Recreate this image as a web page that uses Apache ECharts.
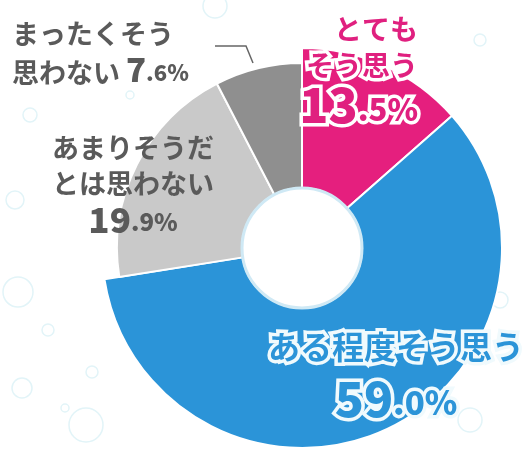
<!DOCTYPE html>
<html>
<head>
<meta charset="utf-8">
<script src="https://cdn.jsdelivr.net/npm/echarts@6/dist/echarts.min.js"></script>
<style>
html,body{margin:0;padding:0;background:#fff}
#chart{width:529px;height:450px}
</style>
</head>
<body>
<div id="chart"></div>
<script>
// 回答項目（12時の位置から時計回り）
var names = ['とても\nそう思う', 'ある程度そう思う', 'あまりそうだ\nとは思わない', 'まったくそう\n思わない'];
var values = [13.5, 59.0, 19.9, 7.6];

var colors = ['#e51f7e', '#2b94d8', '#c9c9c9', '#8f8f8f'];
// ピンクと青は外側に大きく、グレーは小さめ
var outerBig = [true, true, false, false];

var jp = '"Noto Sans CJK JP", sans-serif';

// ラベルの位置
var labelPos = [
	{x: 418, y: 7, align: 'right', verticalAlign: 'top'},
	{x: 396, y: 323, align: 'center', verticalAlign: 'top'},
	{x: 133, y: 125, align: 'center', verticalAlign: 'top'},
	{x: 12, y: 8, align: 'left', verticalAlign: 'top'}
];

// 文字の大きさ [fontSize, lineHeight, 下の余白, 左の余白]
var fontA = [[28, 36], [32, 40], [27, 36], [27, 39]];
var fontN = [[48, 50, 0, 0], [48, 60, 0, 0], [35, 40, 0, 0], [33, 39, 0, 6]];
var fontS = [[31, 50, 4, 0], [33, 60, 4, 0], [24, 40, 3, 0], [22, 39, 2, 0]];
var textColor = ['#e0207f', '#2b94d8', '#5a5a5a', '#5a5a5a'];
// 白いふち取り（ピンクと青だけ）
var outline = [['#fff', 7], ['#f0fafd', 7], null, null];

function tok(f, color, weight, border) {
	var st = {
		fontSize: f[0], lineHeight: f[1], fontWeight: weight, fontFamily: jp,
		color: color, verticalAlign: 'bottom',
		padding: [0, 0, f[2] || 0, f[3] || 0]
	};
	if (border) {
		st.textBorderColor = border[0];
		st.textBorderWidth = border[1];
	}
	return st;
}

// asOutline のときは白いふちの層
function richFor(i, asOutline) {
	var c = asOutline ? outline[i][0] : textColor[i];
	var b = asOutline ? outline[i] : null;
	return {
		a: tok(fontA[i], c, 'bold', b),
		n: tok(fontN[i], c, 900, b),
		s: tok(fontS[i], c, 900, b)
	};
}

function labelText(i) {
	var lines = names[i].split('\n').map(function(s) { return '{a|' + s + '}'; });
	var parts = values[i].toFixed(1).split('.');
	var n = '{n|' + parts[0] + '}{s|.' + parts[1] + '%}';
	if (i === 3) {
		lines[lines.length - 1] += n;
	} else {
		lines.push(n);
	}
	return lines.join('\n');
}

// 外側の系列(big)は扇形とふち取り、内側の系列は扇形と文字
function buildData(big) {
	return values.map(function(v, i) {
		var visible = outerBig[i] === big;
		var item = {value: v, name: names[i]};
		item.itemStyle = visible ? {color: colors[i]} : {color: 'rgba(0,0,0,0)', borderWidth: 0};
		if (big) {
			item.label = outline[i]
				? {show: true, formatter: labelText(i), rich: richFor(i, true)}
				: {show: false};
		} else {
			item.label = {show: true, formatter: labelText(i), rich: richFor(i, false)};
		}
		return item;
	});
}

function layout(params) {
	var p = labelPos[params.dataIndex];
	return {x: p.x, y: p.y, align: p.align, verticalAlign: p.verticalAlign};
}

// 背景の泡
var bubbles = [
	[18, 292, 15], [86, 425, 17], [22, 388, 10], [48, 330, 6], [92, 372, 6],
	[65, 408, 4], [470, 420, 12], [500, 300, 8], [440, 140, 5], [30, 115, 7],
	[130, 95, 4], [215, 6, 12], [480, 40, 6], [15, 200, 9], [250, 430, 8]
];
var graphics = bubbles.map(function(b) {
	return {
		type: 'circle', z: 0, silent: true,
		shape: {cx: b[0], cy: b[1], r: b[2]},
		style: {fill: 'rgba(0,0,0,0)', stroke: '#e2f4f8', lineWidth: 1.5}
	};
});
// 真ん中の穴のふち
graphics.push({
	type: 'circle', z: 100, silent: true,
	shape: {cx: 302, cy: 248, r: 60},
	style: {fill: '#fff', stroke: '#cfe9f5', lineWidth: 3}
});
graphics.push({
	type: 'polyline', z: 100, silent: true,
	shape: {points: [[215, 46], [246, 46], [253, 63]]},
	style: {stroke: '#666', lineWidth: 1.5, fill: null}
});

function pieSeries(outer, big) {
	return {
		type: 'pie',
		center: [302, 248],
		radius: [60, outer],
		startAngle: 90,
		clockwise: true,
		silent: true,
		avoidLabelOverlap: false,
		itemStyle: {borderColor: '#fff', borderWidth: 2},
		label: {position: 'outside'},
		labelLine: {show: false},
		labelLayout: layout,
		emphasis: {disabled: true},
		data: buildData(big)
	};
}

var chart = echarts.init(document.getElementById('chart'));
chart.setOption({
	animation: false,
	backgroundColor: '#fff',
	graphic: graphics,
	series: [pieSeries(200, true), pieSeries(185, false)]
});
</script>
</body>
</html>
